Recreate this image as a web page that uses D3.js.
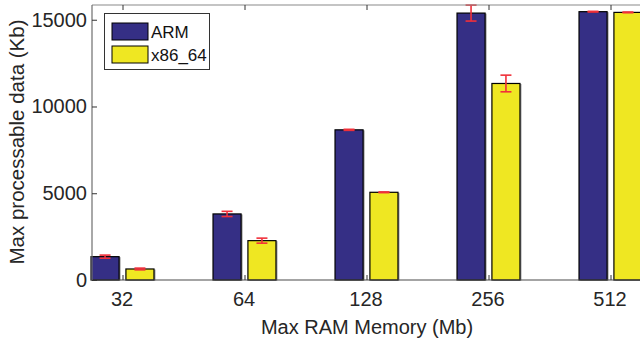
<!DOCTYPE html>
<html>
<head>
<meta charset="utf-8">
<script src="https://cdn.jsdelivr.net/npm/d3@7"></script>
<style>
  body { margin: 0; background: #fff; }
  svg { display: block; font-family: "Liberation Sans", Arial, sans-serif; }
</style>
</head>
<body>
<svg id="chart" width="640" height="345"></svg>
<script>
// data
const categories = ["32", "64", "128", "256", "512"];
const seriesNames = ["ARM", "x86_64"];
const armValues = [1345, 3808, 8655, 15384, 15465];
const armErrors = [90, 150, 30, 460, 20];
const x86Values = [635, 2268, 5055, 11327, 15424];
const x86Errors = [50, 145, 20, 480, 20];
const yTicks = [0, 5000, 10000, 15000];

const colors = ["#352F85", "#EFE722"];

const svg = d3.select("#chart");
const margin = { left: 92, right: -1, top: 5, bottom: 65 };
const W = 640, H = 345;

const x = d3.scaleLinear().domain([0.75, 5.25]).range([margin.left, W - margin.right]);
const y = d3.scaleLinear().domain([0, 15850]).range([H - margin.bottom, margin.top]);

const barW = 0.23, off = 0.143;

const series = [
  { name: seriesNames[0], values: armValues, errors: armErrors, color: colors[0], dx: -off },
  { name: seriesNames[1], values: x86Values, errors: x86Errors, color: colors[1], dx: off },
];

const g = svg.append("g");

// bars (with the grey halo seen on the right edge)
series.forEach(s => {
  const bw = x(1 + barW) - x(1);
  g.selectAll(null)
    .data(s.values)
    .enter()
    .append("rect")
    .attr("x", (d, i) => x(i + 1 + s.dx) - bw / 2 + 1.5)
    .attr("y", d => y(d) + 0.5)
    .attr("width", bw)
    .attr("height", d => y(0) - y(d))
    .attr("fill", "#9a9a9a");
  g.selectAll(null)
    .data(s.values)
    .enter()
    .append("rect")
    .attr("x", (d, i) => x(i + 1 + s.dx) - bw / 2)
    .attr("y", d => y(d))
    .attr("width", bw)
    .attr("height", d => y(0) - y(d))
    .attr("fill", s.color)
    .attr("stroke", "#000")
    .attr("stroke-width", 1.2);
});

// error bars
series.forEach(s => {
  const eb = g.selectAll(null)
    .data(s.values.map((v, i) => ({ v, e: s.errors[i], i })))
    .enter()
    .append("g")
    .attr("stroke", "#F0303A")
    .attr("stroke-width", 1.6);
  const cx = d => x(d.i + 1 + s.dx);
  const top = d => Math.max(y(d.v + d.e), margin.top);
  eb.append("line")
    .attr("x1", cx).attr("x2", cx)
    .attr("y1", top).attr("y2", d => y(d.v - d.e));
  eb.append("line")
    .attr("x1", d => cx(d) - 5.5).attr("x2", d => cx(d) + 5.5)
    .attr("y1", top).attr("y2", top);
  eb.append("line")
    .attr("x1", d => cx(d) - 5.5).attr("x2", d => cx(d) + 5.5)
    .attr("y1", d => y(d.v - d.e)).attr("y2", d => y(d.v - d.e));
});

// axes box
const x0 = x(0.75), x1 = x(5.25), y0 = y(0), y1 = margin.top;
svg.append("line").attr("x1", x0).attr("x2", x1).attr("y1", y1).attr("y2", y1)
  .attr("stroke", "#8a8a8a").attr("stroke-width", 1.2);
svg.append("line").attr("x1", x0).attr("x2", x1).attr("y1", y0).attr("y2", y0)
  .attr("stroke", "#4a4a4a").attr("stroke-width", 1.2);
svg.append("line").attr("x1", x0).attr("x2", x0).attr("y1", y0).attr("y2", y1)
  .attr("stroke", "#6e6e6e").attr("stroke-width", 1.2);

// x axis
const xAxis = d3.axisBottom(x)
  .tickValues(d3.range(1, categories.length + 1))
  .tickFormat(d => categories[d - 1])
  .tickSizeInner(-5).tickSizeOuter(0).tickPadding(12);
const gx = svg.append("g").attr("transform", `translate(0,${y0})`).call(xAxis);
gx.select(".domain").remove();
gx.selectAll(".tick line").attr("stroke", "#333");
gx.selectAll(".tick text").attr("font-size", 20).attr("fill", "#262626").attr("dx", -1);

// top ticks
const gxt = svg.append("g").attr("transform", `translate(0,${y1})`)
  .call(d3.axisTop(x).tickValues(d3.range(1, categories.length + 1)).tickFormat("").tickSizeInner(-5).tickSizeOuter(0));
gxt.select(".domain").remove();
gxt.selectAll(".tick line").attr("stroke", "#333");

// y axis
const yAxis = d3.axisLeft(y).tickValues(yTicks).tickFormat(d3.format("d"))
  .tickSizeInner(-5).tickSizeOuter(0).tickPadding(5);
const gy = svg.append("g").attr("transform", `translate(${x0},0)`).call(yAxis);
gy.select(".domain").remove();
gy.selectAll(".tick line").attr("stroke", "#333");
gy.selectAll(".tick text").attr("font-size", 20).attr("fill", "#262626");

// axis labels
svg.append("text")
  .attr("x", 367).attr("y", 334)
  .attr("text-anchor", "middle")
  .attr("font-size", 20).attr("fill", "#262626")
  .text("Max RAM Memory (Mb)");
svg.append("text")
  .attr("transform", "translate(24,142) rotate(-90)")
  .attr("text-anchor", "middle")
  .attr("font-size", 20.5).attr("fill", "#262626")
  .text("Max processable data (Kb)");

// legend
const lg = svg.append("g");
lg.append("rect").attr("x", 104.5).attr("y", 13.5).attr("width", 105).attr("height", 56)
  .attr("fill", "#fff").attr("stroke", "#333").attr("stroke-width", 1);
series.forEach((s, i) => {
  lg.append("rect").attr("x", 112).attr("y", 23 + i * 23).attr("width", 36).attr("height", 17)
    .attr("fill", s.color).attr("stroke", "#000").attr("stroke-width", 1);
  lg.append("text").attr("x", 151).attr("y", 38 + i * 23)
    .attr("font-size", 17).attr("fill", "#111")
    .text(s.name);
});
</script>
</body>
</html>
